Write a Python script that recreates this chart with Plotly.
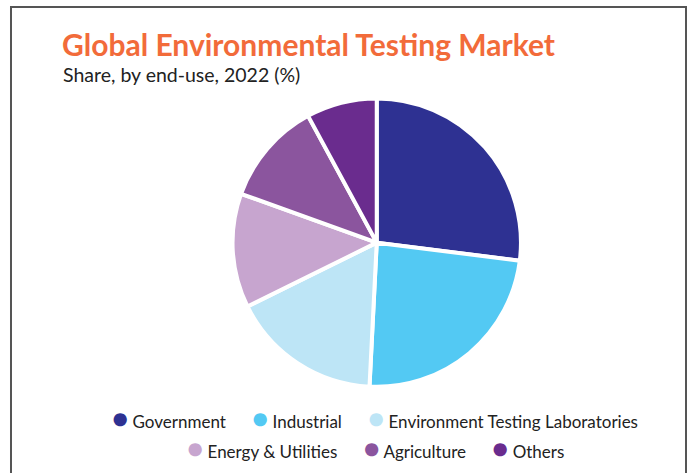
import plotly.graph_objects as go

# end-use segments, shares in %
segments = ["Government", "Industrial", "Environment Testing Laboratories",
            "Energy & Utilities", "Agriculture", "Others"]
shares = [27.0, 23.8, 16.9, 12.8, 11.6, 7.9]
colors = ["#2E3192", "#53C9F3", "#BDE5F6", "#C7A5CF", "#8B559E", "#6A2C8E"]
legend_row = [1, 1, 1, 2, 2, 2]

FONT = "Lato"
W, H = 690, 473

fig = go.Figure()

fig.add_trace(go.Pie(
    labels=segments, values=shares,
    marker=dict(colors=colors, line=dict(color="white", width=4)),
    sort=False, direction="clockwise", rotation=0,
    textinfo="none", hoverinfo="label+percent",
    showlegend=False,
    domain=dict(x=[0.337, 0.755], y=[0.182, 0.792]),
))


# legend drawn as two centred text rows with round bullets
def legend_text(row):
    items = []
    for name, col, r in zip(segments, colors, legend_row):
        if r == row:
            items.append("<span style='color:%s;font-size:27px'>●</span> %s" % (col, name))
    return ("&nbsp;" * 6).join(items)


annotations = [
    dict(text="<b>Global Environmental Testing Market</b>", xref="paper", yref="paper",
         x=60 / W, y=1 - 24 / H, xanchor="left", yanchor="top", showarrow=False,
         font=dict(family=FONT, size=30, color="#F26B3A")),
    dict(text="Share, by end-use, 2022 (%)", xref="paper", yref="paper",
         x=61 / W, y=1 - 61 / H, xanchor="left", yanchor="top", showarrow=False,
         font=dict(family=FONT, size=19.5, color="#222222")),
]
for row, ypix in [(1, 417), (2, 447)]:
    annotations.append(dict(
        text=legend_text(row), xref="paper", yref="paper",
        x=375 / W, y=1 - ypix / H, xanchor="center", yanchor="middle", showarrow=False,
        font=dict(family=FONT, size=17, color="#222222")))

fig.update_layout(
    width=W, height=H,
    margin=dict(l=0, r=0, t=0, b=0),
    paper_bgcolor="white", plot_bgcolor="white",
    xaxis=dict(visible=False), yaxis=dict(visible=False),
    annotations=annotations,
    shapes=[dict(type="path", xref="paper", yref="paper",
                 path="M %f,%f L %f,%f L %f,%f L %f,%f" % (
                     11 / W, -0.05, 11 / W, 1 - 7 / H,
                     686 / W, 1 - 7 / H, 686 / W, -0.05),
                 line=dict(color="#555555", width=2))],
)

fig.write_html("out.html", config={"displayModeBar": False},
               post_script="document.body.style.margin='0';")
